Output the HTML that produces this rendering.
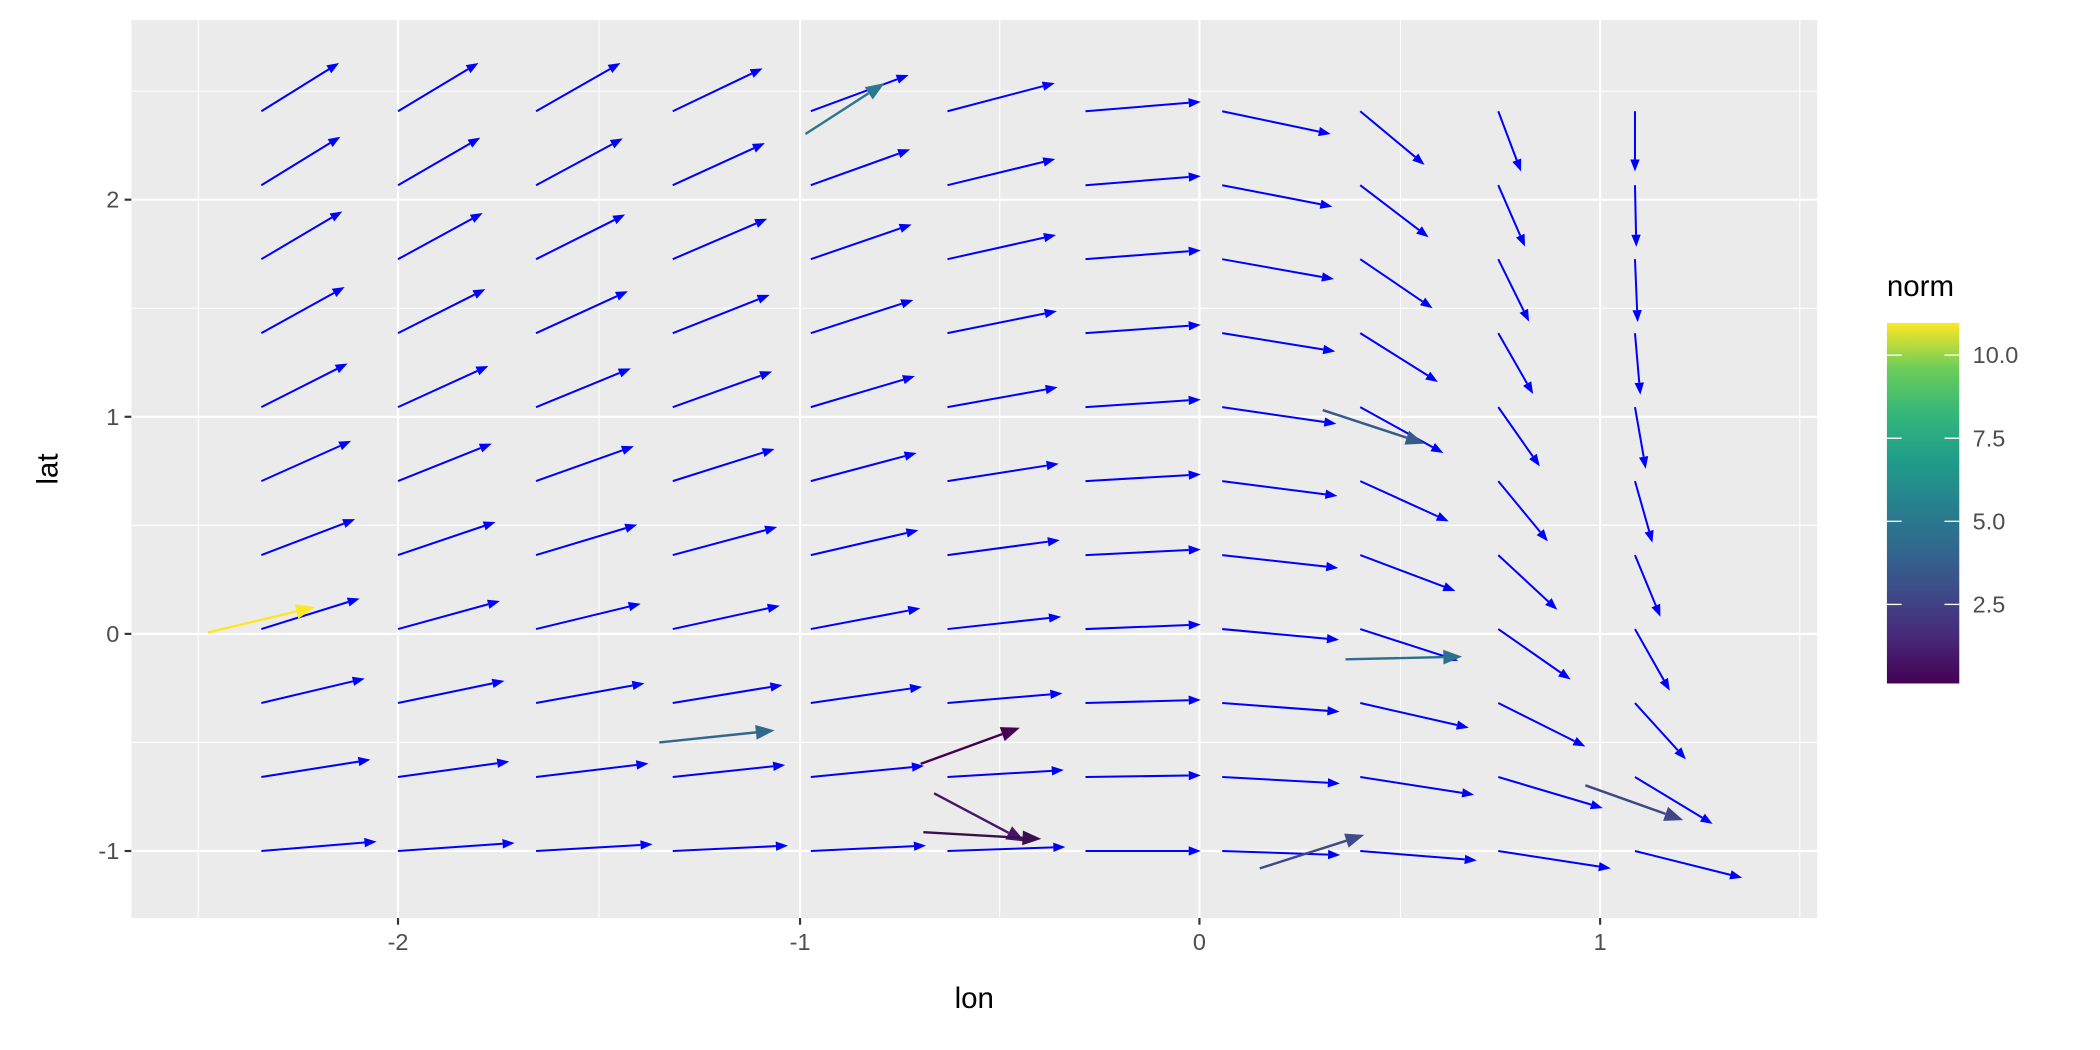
<!DOCTYPE html>
<html><head><meta charset="utf-8"><style>
html,body{margin:0;padding:0;background:#fff;}
svg{display:block;font-family:"Liberation Sans",Arial,sans-serif;}
</style></head><body>
<svg id="s" width="2100" height="1050" viewBox="0 0 1567 783.5" preserveAspectRatio="none" xmlns="http://www.w3.org/2000/svg">
<defs>
<linearGradient id="vir" x1="0" y1="1" x2="0" y2="0">
<stop offset="0" stop-color="#440154"/><stop offset="0.125" stop-color="#482878"/>
<stop offset="0.25" stop-color="#3E4A89"/><stop offset="0.375" stop-color="#31688E"/>
<stop offset="0.5" stop-color="#26828E"/><stop offset="0.625" stop-color="#1F9E89"/>
<stop offset="0.75" stop-color="#35B779"/><stop offset="0.875" stop-color="#6DCD59"/>
<stop offset="1" stop-color="#FDE725"/>
</linearGradient>
</defs>
<rect x="98" y="15" width="1258" height="670" fill="#EBEBEB"/>
<g stroke="#fff" stroke-width="0.8">
<line x1="148" y1="15" x2="148" y2="685"/><line x1="447" y1="15" x2="447" y2="685"/>
<line x1="746" y1="15" x2="746" y2="685"/><line x1="1045" y1="15" x2="1045" y2="685"/>
<line x1="1343" y1="15" x2="1343" y2="685"/>
<line x1="98" y1="68" x2="1356" y2="68"/><line x1="98" y1="230" x2="1356" y2="230"/>
<line x1="98" y1="392" x2="1356" y2="392"/><line x1="98" y1="554" x2="1356" y2="554"/>
</g>
<g stroke="#fff" stroke-width="1.6">
<line x1="297" y1="15" x2="297" y2="685"/><line x1="597" y1="15" x2="597" y2="685"/>
<line x1="895" y1="15" x2="895" y2="685"/><line x1="1194" y1="15" x2="1194" y2="685"/>
<line x1="98" y1="149" x2="1356" y2="149"/><line x1="98" y1="311" x2="1356" y2="311"/>
<line x1="98" y1="473" x2="1356" y2="473"/><line x1="98" y1="635" x2="1356" y2="635"/>
</g>
<g id="arrows"></g>
<g stroke="#333" stroke-width="1.6">
<line x1="297" y1="685" x2="297" y2="690"/><line x1="597" y1="685" x2="597" y2="690"/>
<line x1="895" y1="685" x2="895" y2="690"/><line x1="1194" y1="685" x2="1194" y2="690"/>
<line x1="93" y1="149" x2="98" y2="149"/><line x1="93" y1="311" x2="98" y2="311"/>
<line x1="93" y1="473" x2="98" y2="473"/><line x1="93" y1="635" x2="98" y2="635"/>
</g>
<g fill="#4D4D4D" font-size="17.5">
<text x="297" y="709" text-anchor="middle">-2</text><text x="597" y="709" text-anchor="middle">-1</text>
<text x="895" y="709" text-anchor="middle">0</text><text x="1194" y="709" text-anchor="middle">1</text>
<text x="89" y="155" text-anchor="end">2</text><text x="89" y="317" text-anchor="end">1</text>
<text x="89" y="479" text-anchor="end">0</text><text x="89" y="641" text-anchor="end">-1</text>
</g>
<text x="727" y="752" text-anchor="middle" font-size="22">lon</text>
<text transform="translate(43,350) rotate(-90)" text-anchor="middle" font-size="22">lat</text>
<text x="1408" y="221" font-size="22">norm</text>
<rect x="1408" y="241" width="54" height="269" fill="url(#vir)"/>
<g stroke="#fff" stroke-width="1">
<line x1="1408" y1="265" x2="1419" y2="265"/><line x1="1451" y1="265" x2="1462" y2="265"/>
<line x1="1408" y1="327" x2="1419" y2="327"/><line x1="1451" y1="327" x2="1462" y2="327"/>
<line x1="1408" y1="389" x2="1419" y2="389"/><line x1="1451" y1="389" x2="1462" y2="389"/>
<line x1="1408" y1="451" x2="1419" y2="451"/><line x1="1451" y1="451" x2="1462" y2="451"/>
</g>
<g fill="#4D4D4D" font-size="17.5">
<text x="1472" y="271">10.0</text><text x="1472" y="333">7.5</text>
<text x="1472" y="395">5.0</text><text x="1472" y="457">2.5</text>
</g>
</svg>
<script>
(function(){
var cols=[[195,[58,-36],[67,-30],[86,-7]],[297,[60,-36],[70,-28],[87,-6]],[400,[63,-36],[73,-26],[87,-5]],
[502,[67,-32],[76,-24],[86,-4]],[605,[73,-27],[79,-21],[86,-4]],[707,[80,-21],[83,-13],[88,-3]],
[810,[86,-7],[86,-5],[86,0]],[912,[81,17],[86,11],[88,3]]];
var ends={8:[1015,[1063,1066,1069,1073,1077,1081,1086,1088,1096,1100,1102],[123,177,230,285,338,389,441,493,543,593,642]],
9:[1118,[1135,1138,1141,1144,1149,1155,1162,1172,1183,1196,1202],[128,184,240,294,348,404,455,507,557,603,648]]};
var c10=[[0,45],[1,46],[2,47],[4,46],[8,46],[13,46],[19,46],[26,46],[38,42],[58,35],[80,20]];
function q(a,b,c,t){var l0=(t-5)*(t-10)/50,l1=t*(t-10)/-25,l2=t*(t-5)/50;return a*l0+b*l1+c*l2;}
var h='';
function arrow(x1,y1,x2,y2,col,w,hl,hw){
 var dx=x2-x1,dy=y2-y1,L=Math.sqrt(dx*dx+dy*dy)||1,ux=dx/L,uy=dy/L;
 var bx=x2-ux*hl,by=y2-uy*hl;
 h+='<line x1="'+x1+'" y1="'+y1+'" x2="'+bx.toFixed(1)+'" y2="'+by.toFixed(1)+'" stroke="'+col+'" stroke-width="'+w+'"/>';
 h+='<polygon points="'+x2.toFixed(1)+','+y2.toFixed(1)+' '+(bx-uy*hw).toFixed(1)+','+(by+ux*hw).toFixed(1)+' '+(bx+uy*hw).toFixed(1)+','+(by-ux*hw).toFixed(1)+'" fill="'+col+'"/>';
}
for(var j=0;j<11;j++){var y=83+j*55.2;
 for(var i=0;i<8;i++){var c=cols[i];
  var dx=q(c[1][0],c[2][0],c[3][0],j),dy=q(c[1][1],c[2][1],c[3][1],j);
  arrow(c[0],y,c[0]+dx,y+dy,'#0000FF',1.5,9,3.5);}
 for(var k=8;k<10;k++){var e=ends[k];arrow(e[0],y,e[1][j],e[2][j],'#0000FF',1.5,9,3.5);}
 arrow(1220,y,1220+c10[j][0],y+c10[j][1],'#0000FF',1.5,9,3.5);
}
var ex=[[155,472,235,453,'#FDE725'],[601,100,660,62,'#2A788E'],[492,554,578,545,'#31688E'],
[687,570,761,543,'#440154'],[697,592,765,628,'#481668'],[689,621,777,626,'#3B0F4F'],
[940,648,1018,623,'#3E4A89'],[987,306,1063,331,'#38598C'],[1004,492,1091,490,'#2D708E'],[1183,586,1256,612,'#3F4788']];
ex.forEach(function(e){arrow(e[0],e[1],e[2],e[3],e[4],1.8,14,5.5);});
document.getElementById('arrows').innerHTML=h;
})();
</script>
</body></html>
